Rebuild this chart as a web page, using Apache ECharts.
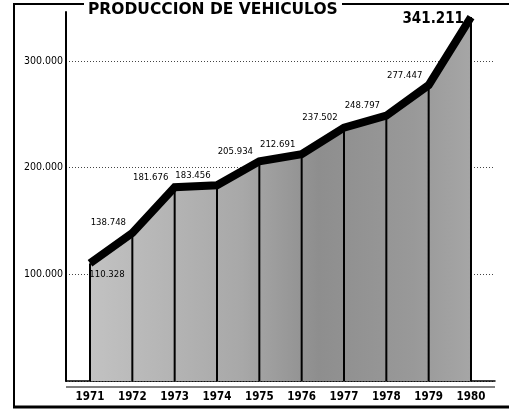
<!DOCTYPE html>
<html>
<head>
<meta charset="utf-8">
<script src="https://cdn.jsdelivr.net/npm/echarts@6/dist/echarts.min.js"></script>
<style>
  html, body { margin: 0; padding: 0; background: #fff; }
  #chart { width: 509px; height: 413px; }
</style>
</head>
<body>
<div id="chart"></div>
<script>
// produccion anual de vehiculos
const years = [1971, 1972, 1973, 1974, 1975, 1976, 1977, 1978, 1979, 1980];
const production = [110328, 138748, 181676, 183456, 205934, 212691, 237502, 248797, 277447, 341211];
const valueLabels = ['110.328', '138.748', '181.676', '183.456', '205.934', '212.691', '237.502', '248.797', '277.447', '341.211'];
const yTicks = { 100000: '100.000', 200000: '200.000', 300000: '300.000' };

const narrow = '"DejaVu Sans Condensed", sans-serif';

const points = years.map((y, i) => {
    let label = { show: true, formatter: valueLabels[i] };
    if (i === 0) {
        label = Object.assign(label, { position: 'bottom', offset: [17, 1] });
    } else if (i === years.length - 1) {
        label = Object.assign(label, { position: 'left', distance: 7, offset: [0, 2],
            fontSize: 15, fontWeight: 'bold' });
    }
    return { value: [y, production[i]], label: label };
});

const chart = echarts.init(document.getElementById('chart'));
chart.setOption({
    animation: false,
    title: {
        text: 'PRODUCCION DE VEHICULOS',
        left: 83, top: -3,
        textStyle: { fontFamily: '"DejaVu Sans", sans-serif', fontWeight: 'bold', fontSize: 15.5, color: '#000' }
    },
    grid: { left: 66, right: 14, top: 12, bottom: 32 },
    xAxis: {
        type: 'value',
        min: 1970.433,
        max: 1980.567,
        splitLine: { show: false },
        axisLine: { lineStyle: { color: '#000', width: 1.5 } },
        axisTick: { show: false },
        axisLabel: {
            customValues: years,
            formatter: v => String(v),
            margin: 10,
            color: '#000',
            fontFamily: narrow,
            fontWeight: 'bold',
            fontSize: 11.5
        }
    },
    yAxis: {
        type: 'value',
        min: 0,
        max: 346000,
        interval: 100000,
        axisLine: { show: true, lineStyle: { color: '#000', width: 2 } },
        axisTick: { show: false },
        axisLabel: {
            formatter: v => yTicks[v] || '',
            margin: 3,
            color: '#000',
            fontFamily: narrow,
            fontSize: 10.5
        },
        splitLine: { showMaxLine: false, lineStyle: { color: '#444', type: [1, 2], width: 1 } }
    },
    series: [
        {
            type: 'line',
            data: points,
            z: 2,
            symbol: 'circle',
            symbolSize: 0.1,
            showSymbol: true,
            itemStyle: { color: '#000' },
            lineStyle: { color: '#000', width: 8, cap: 'butt', join: 'miter' },
            areaStyle: {
                opacity: 1,
                color: new echarts.graphic.LinearGradient(0, 0, 1, 0, [
                    { offset: 0, color: '#c2c2c2' },
                    { offset: 0.4, color: '#a8a8a8' },
                    { offset: 0.6, color: '#8e8e8e' },
                    { offset: 0.85, color: '#999' },
                    { offset: 1, color: '#a6a6a6' }
                ])
            },
            label: {
                show: true,
                position: 'top',
                distance: 5,
                offset: [-24, 0],
                color: '#000',
                fontFamily: narrow,
                fontSize: 9.5
            }
        },
        {
            type: 'bar',
            data: years.map((y, i) => [y, production[i]]),
            z: 3,
            barWidth: 2,
            itemStyle: { color: '#000' }
        }
    ],
    graphic: [
        { type: 'line', shape: { x1: 14, y1: 4, x2: 14, y2: 407 }, style: { stroke: '#000', lineWidth: 2 } },
        { type: 'line', shape: { x1: 13, y1: 4, x2: 84, y2: 4 }, style: { stroke: '#000', lineWidth: 2 } },
        { type: 'line', shape: { x1: 342, y1: 4, x2: 509, y2: 4 }, style: { stroke: '#000', lineWidth: 2 } },
        { type: 'line', shape: { x1: 13, y1: 407, x2: 509, y2: 407 }, style: { stroke: '#000', lineWidth: 3 } },
        { type: 'line', shape: { x1: 66, y1: 387, x2: 495, y2: 387 }, style: { stroke: '#000', lineWidth: 1 } }
    ]
});
</script>
</body>
</html>
